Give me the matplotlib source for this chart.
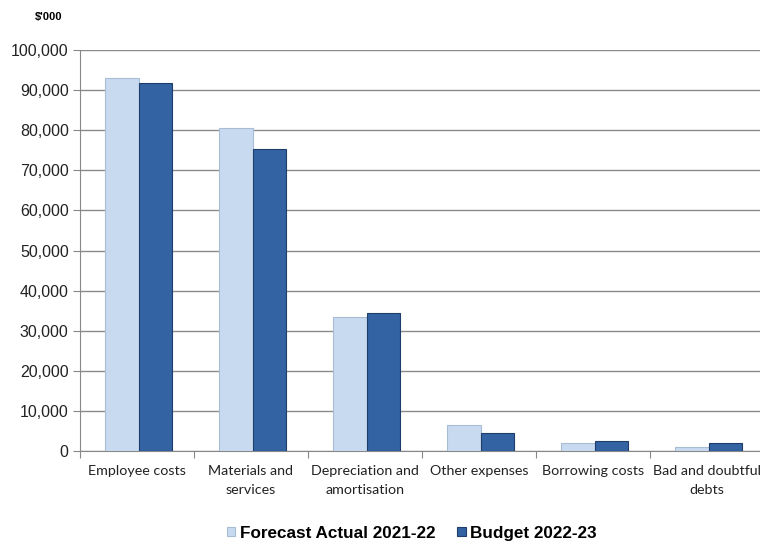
import matplotlib.pyplot as plt
from matplotlib.ticker import FixedLocator, FuncFormatter
import numpy as np

# Werte in $'000
categories = ['Employee costs', 'Materials and\nservices', 'Depreciation and\namortisation',
              'Other expenses', 'Borrowing costs', 'Bad and doubtful\ndebts']
forecast_2122 = [93000, 80500, 33400, 6500, 1900, 1100]
budget_2223 = [91800, 75400, 34400, 4500, 2600, 1900]
yticks = [0, 10000, 20000, 30000, 40000, 50000, 60000, 70000, 80000, 90000, 100000]

fig = plt.figure(figsize=(7.6, 5.44), dpi=100)
ax = fig.add_axes([0.105, 0.171, 0.90, 0.737])

x = np.arange(len(categories))
w = 0.295
ax.bar(x - 0.13, forecast_2122, w, color='#c8daf0', edgecolor='#a8bcd6', linewidth=0.8,
       label='Forecast Actual 2021-22', zorder=3)
ax.bar(x + 0.165, budget_2223, w, color='#3363a3', edgecolor='#1f3e6c', linewidth=0.8,
       label='Budget 2022-23', zorder=3)

ax.set_xlim(-0.5, 5.5)
ax.set_ylim(0, 100000)
ax.set_yticks(yticks)
ax.yaxis.set_major_formatter(FuncFormatter(lambda v, p: f'{int(v):,}'))
ax.yaxis.grid(True, color='#8a8a8a', linewidth=1.0, zorder=0)

# Striche an den Kategoriegrenzen, Beschriftung in der Mitte
ax.xaxis.set_major_locator(FixedLocator(np.arange(-0.5, 6.0, 1.0)))
ax.xaxis.set_major_formatter(FuncFormatter(lambda v, p: ''))
ax.xaxis.set_minor_locator(FixedLocator(x))
ax.set_xticklabels(categories, minor=True, fontsize=10.3,
                   family=['Lato', 'DejaVu Sans'], color='#222222', linespacing=1.75)
ax.tick_params(axis='x', which='major', length=5, color='#888888', direction='out')
ax.tick_params(axis='x', which='minor', length=0, pad=10)
ax.tick_params(axis='y', length=5, color='#888888', labelsize=11.5, pad=3)
for t in ax.get_yticklabels():
    t.set_family(['Liberation Sans', 'DejaVu Sans'])
    t.set_color('#222222')

for s in ['top', 'right']:
    ax.spines[s].set_visible(False)
ax.spines['left'].set_color('#888888')
ax.spines['bottom'].set_color('#888888')

fig.text(0.046, 0.968, "$'000", fontsize=8, fontweight='bold',
         family=['Liberation Sans', 'DejaVu Sans'], ha='left', va='center')

leg = fig.legend(loc='center', bbox_to_anchor=(0.542, 0.02), ncol=2, frameon=False,
                 handlelength=0.5, handleheight=0.5, handletextpad=0.25, columnspacing=1.3,
                 prop={'family': ['Liberation Sans', 'DejaVu Sans'], 'weight': 'bold', 'size': 12.3})

plt.savefig('out.png', dpi=100)
